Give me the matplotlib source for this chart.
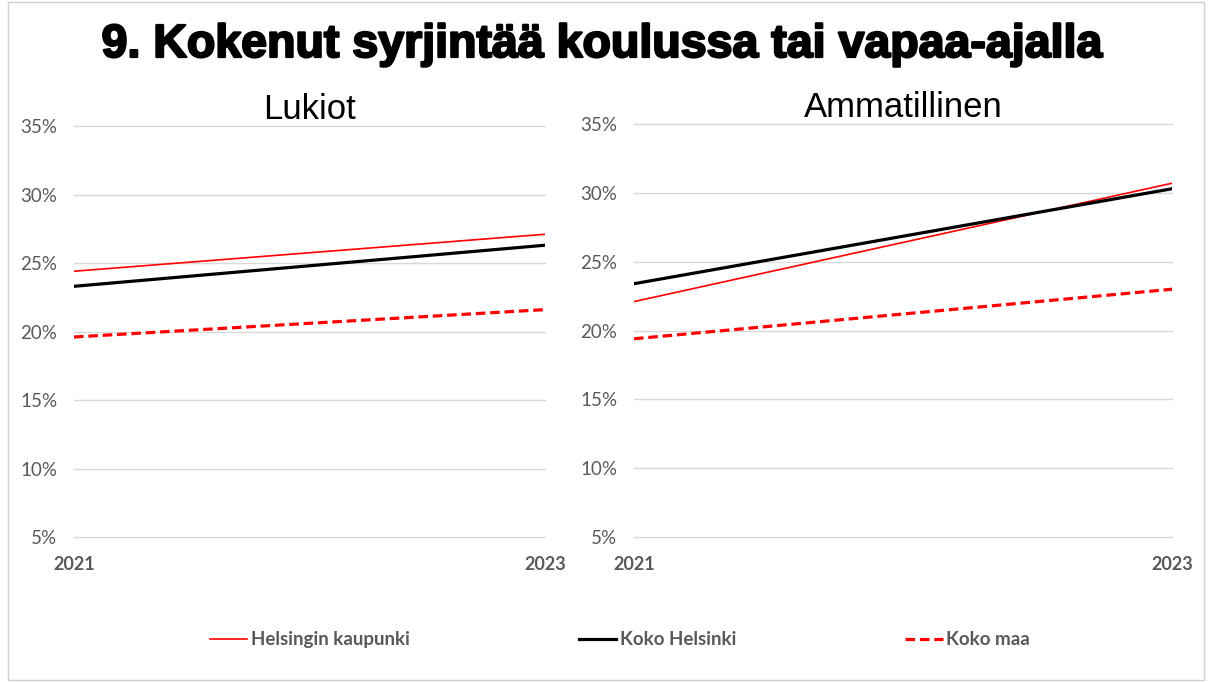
import matplotlib.pyplot as plt
import matplotlib.patheffects as pe
from matplotlib.ticker import FuncFormatter
from matplotlib.lines import Line2D
from matplotlib.patches import Rectangle

years = [2021, 2023]

lukiot_hki_kaupunki = [24.4, 27.1]
lukiot_koko_helsinki = [23.3, 26.3]
lukiot_koko_maa = [19.6, 21.6]

amm_hki_kaupunki = [22.1, 30.7]
amm_koko_helsinki = [23.4, 30.3]
amm_koko_maa = [19.4, 23.0]

series_labels = ["Helsingin kaupunki", "Koko Helsinki", "Koko maa"]
panel_titles = ["Lukiot", "Ammatillinen"]
yticks = [5, 10, 15, 20, 25, 30, 35]

grey = "#595959"

fig = plt.figure(figsize=(12.11, 6.82), dpi=100)
fig.patches.append(Rectangle((0.007, 0.003), 0.987, 0.994, transform=fig.transFigure,
                             fill=False, edgecolor="#d0d0d0", linewidth=1))

ax1 = fig.add_axes([0.0611, 0.2126, 0.389, 0.6026])
ax2 = fig.add_axes([0.5235, 0.2126, 0.4443, 0.6055])

panels = [
    (ax1, lukiot_hki_kaupunki, lukiot_koko_helsinki, lukiot_koko_maa),
    (ax2, amm_hki_kaupunki, amm_koko_helsinki, amm_koko_maa),
]

for (ax, a, b, c), title in zip(panels, panel_titles):
    ax.plot(years, a, color="#ff0000", linewidth=1.2)
    ax.plot(years, b, color="black", linewidth=2.3)
    ax.plot(years, c, color="#ff0000", linewidth=2.3, linestyle=(0, (3, 1.5)))
    ax.set_xlim(2021, 2023)
    ax.set_ylim(5, 35)
    ax.set_yticks(yticks)
    ax.yaxis.set_major_formatter(FuncFormatter(lambda v, p: f"{v:.0f}%"))
    ax.set_xticks(years)
    ax.set_xticklabels([str(y) for y in years], fontweight="bold")
    ax.grid(axis="y", color="#d9d9d9", linewidth=1)
    for gl in ax.get_ygridlines():
        gl.set_clip_on(False)
    ax.set_axisbelow(True)
    for s in ax.spines.values():
        s.set_visible(False)
    ax.tick_params(axis="both", length=0, labelcolor=grey)
    ax.tick_params(axis="y", labelsize=13.5, pad=12)
    ax.tick_params(axis="x", labelsize=13, pad=14)
    for lab in ax.get_xticklabels() + ax.get_yticklabels():
        lab.set_family("Lato")
    ax.set_title(title, fontsize=25, family="Liberation Sans", pad=-2)

fig.text(0.497, 0.934, "9. Kokenut syrjintää koulussa tai vapaa-ajalla",
         ha="center", va="center", fontsize=33.5, fontweight="bold",
         family="Liberation Sans", color="black",
         path_effects=[pe.withStroke(linewidth=1.6, foreground="black")])

handles = [
    Line2D([], [], color="#ff0000", linewidth=1.2),
    Line2D([], [], color="black", linewidth=2.3),
    Line2D([], [], color="#ff0000", linewidth=2.3, linestyle=(0, (3, 1.5))),
]
leg = fig.legend(handles, series_labels, loc="center", bbox_to_anchor=(0.512, 0.062),
                 ncol=3, frameon=False, columnspacing=9, handlelength=2.0,
                 handletextpad=0.2, prop={"family": "Lato", "weight": "bold", "size": 13.5})
for t in leg.get_texts():
    t.set_color(grey)

fig.savefig("out.png", dpi=100, facecolor="white")
